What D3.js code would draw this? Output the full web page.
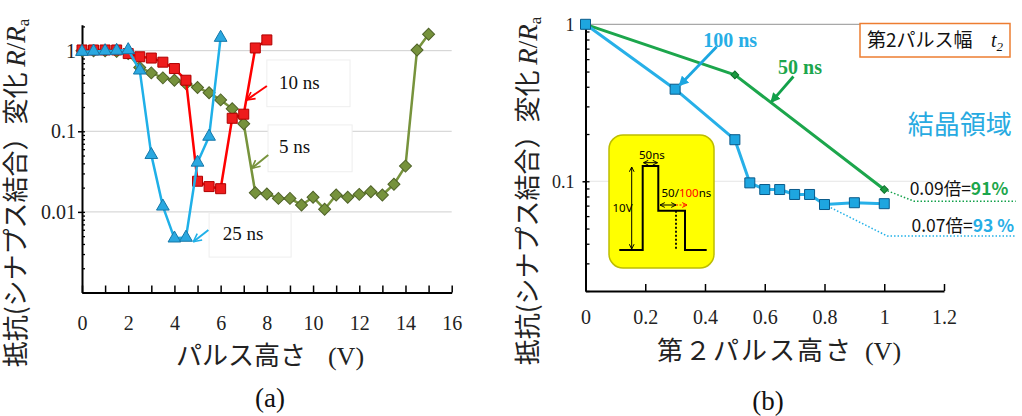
<!DOCTYPE html>
<html>
<head>
<meta charset="utf-8">
<script src="https://cdn.jsdelivr.net/npm/d3@7"></script>
<style>
body { margin: 0; background: #fff; }
svg { display: block; }
</style>
</head>
<body>
<svg id="chart" width="1022" height="416"></svg>
<script>
// (a) resistance change vs pulse height, three pulse widths
var redX = [0, 0.5, 1, 1.5, 2, 2.5, 3, 3.5, 4, 4.5, 5, 5.5, 6, 6.5, 7, 7.5, 8];
var redY = [1.02, 1.02, 1.02, 1.02, 0.92, 0.84, 0.81, 0.72, 0.6, 0.43, 0.024, 0.0206, 0.0194, 0.145, 0.163, 1.08, 1.36];

var blueX = [0, 0.5, 1, 1.5, 2, 2.5, 3, 3.5, 4, 4.5, 5, 5.5, 6];
var blueY = [0.97, 0.98, 0.99, 1.0, 1.02, 0.57, 0.051, 0.0117, 0.0047, 0.0048, 0.041, 0.086, 1.45];

var greenX = [0, 0.5, 1, 1.5, 2, 2.5, 3, 3.5, 4, 4.5, 5, 5.5, 6, 6.5, 7, 7.5,
              8, 8.5, 9, 9.5, 10, 10.5, 11, 11.5, 12, 12.5, 13, 13.5, 14, 14.5, 15];
var greenY = [1.0, 1.0, 1.0, 0.98, 0.92, 0.62, 0.53, 0.46, 0.43, 0.39, 0.35, 0.3, 0.245, 0.19, 0.124, 0.0173,
              0.0167, 0.0147, 0.0147, 0.0122, 0.0152, 0.0108, 0.0162, 0.0152, 0.0165, 0.0178, 0.0162, 0.022, 0.037, 1.02, 1.6];

var leftXTicks = [0, 2, 4, 6, 8, 10, 12, 14, 16];
var leftYTicks = [1, 0.1, 0.01];

// (b) resistance change vs second pulse height
var b100X = [0, 0.3, 0.5, 0.55, 0.6, 0.65, 0.7, 0.75, 0.8, 0.9, 1.0];
var b100Y = [1.0, 0.386, 0.184, 0.0977, 0.0886, 0.0886, 0.0824, 0.0824, 0.0711, 0.073, 0.072];
var b50X = [0, 0.5, 1.0];
var b50Y = [1.0, 0.476, 0.0886];

var rightXTicks = [0, 0.2, 0.4, 0.6, 0.8, 1, 1.2];
var rightYTicks = [1, 0.1];

var svg = d3.select("#chart");
var serif = "'Liberation Serif','Times New Roman',serif";
var jp = "'Noto Sans CJK JP','Noto Sans',sans-serif";
var sans = "'Noto Sans','Noto Sans CJK JP',sans-serif";

var xA = d3.scaleLinear().domain([0, 16]).range([82, 451.7]);
var yA = d3.scaleLog().domain([0.001, 2.1]).range([292.5, 24.7]);
var xB = d3.scaleLinear().domain([0, 1.2]).range([585.5, 944]);
var yB = d3.scaleLog().domain([0.02, 1]).range([291, 24.3]);

var defs = svg.append("defs");

function headMarker(id, color, filled, w) {
    defs.append("marker")
        .attr("id", id)
        .attr("viewBox", "0 0 10 10")
        .attr("refX", filled ? 8 : 9)
        .attr("refY", 5)
        .attr("markerWidth", w)
        .attr("markerHeight", w)
        .attr("markerUnits", "strokeWidth")
        .attr("orient", "auto-start-reverse")
      .append("path")
        .attr("d", filled ? "M0,0 L10,5 L0,10 Z" : "M1,1 L9,5 L1,9")
        .attr("fill", filled ? color : "none")
        .attr("stroke", color)
        .attr("stroke-width", filled ? 0 : 1.6);
}
headMarker("hRed", "#ff0000", false, 5);
headMarker("hOlive", "#77933c", false, 5);
headMarker("hSky", "#1fb0e8", false, 5);
headMarker("hBlue", "#1ca6e0", true, 3.6);
headMarker("hGreen", "#12a04a", true, 3.6);
headMarker("hInk", "#000", false, 6);
headMarker("hInkRed", "#ff0000", false, 6);

function styleAxis(g, size, family) {
    g.attr("font-family", family).attr("font-size", size);
    g.selectAll("text").attr("fill", "#222");
    g.select(".domain").attr("stroke", "#000").attr("stroke-width", 2);
    g.selectAll(".tick line").attr("stroke", "#000").attr("stroke-width", 1.5);
}

function drawSeries(g, xs, ys, xs_, ys_, lineColor, lineWidth, sym, size, fill, stroke, angle) {
    var pts = xs.map(function(x, i) { return [x, ys[i]]; });
    var line = d3.line()
        .x(function(d) { return xs_(d[0]); })
        .y(function(d) { return ys_(d[1]); });
    g.append("path")
        .attr("d", line(pts))
        .attr("fill", "none")
        .attr("stroke", lineColor)
        .attr("stroke-width", lineWidth)
        .attr("stroke-linejoin", "round");
    g.selectAll(null)
        .data(pts)
      .enter().append("path")
        .attr("d", d3.symbol().type(sym).size(size))
        .attr("transform", function(d) {
            return "translate(" + xs_(d[0]) + "," + ys_(d[1]) + ") rotate(" + angle + ")";
        })
        .attr("fill", fill)
        .attr("stroke", stroke)
        .attr("stroke-width", 1);
}

function yLabel(x, y) {
    var t = svg.append("text")
        .attr("transform", "translate(" + x + "," + y + ") rotate(-90)")
        .attr("text-anchor", "middle")
        .attr("font-family", jp)
        .attr("font-size", 26)
        .attr("fill", "#222");
    t.append("tspan").text("抵抗(シナプス結合）変化 ");
    t.append("tspan").attr("font-family", serif).attr("font-style", "italic").attr("font-size", 27).text("R");
    t.append("tspan").attr("font-family", serif).attr("font-size", 27).text("/");
    t.append("tspan").attr("font-family", serif).attr("font-style", "italic").attr("font-size", 27).text("R");
    t.append("tspan").attr("font-family", serif).attr("font-size", 17).attr("dy", 4).text("a");
}

// ---------------- panel (a) ----------------
var gA = svg.append("g");

gA.selectAll(null)
    .data(leftYTicks)
  .enter().append("line")
    .attr("x1", xA.range()[0]).attr("x2", xA.range()[1])
    .attr("y1", function(d) { return yA(d); })
    .attr("y2", function(d) { return yA(d); })
    .attr("stroke", "#cfcfcf")
    .attr("stroke-width", 1);

var axA = gA.append("g")
    .attr("transform", "translate(0," + yA.range()[0] + ")")
    .call(d3.axisBottom(xA).tickValues(xA.ticks(16)).tickSizeInner(-7).tickSizeOuter(0).tickPadding(23)
        .tickFormat(function(d) { return leftXTicks.indexOf(d) >= 0 ? d : ""; }));
styleAxis(axA, 20, serif);

var minorA = gA.append("g")
    .attr("transform", "translate(" + xA.range()[0] + ",0)")
    .call(d3.axisLeft(yA).tickValues(yA.ticks()).tickSizeInner(-3).tickSizeOuter(0).tickFormat(""));
minorA.select(".domain").remove();
minorA.selectAll(".tick line").attr("stroke", "#000").attr("stroke-width", 1.3);

var ayA = gA.append("g")
    .attr("transform", "translate(" + xA.range()[0] + ",0)")
    .call(d3.axisLeft(yA).tickValues(leftYTicks).tickSizeInner(4).tickSizeOuter(0).tickPadding(2)
        .tickFormat(function(d) { return String(d); }));
styleAxis(ayA, 20, serif);

// annotation boxes (drawn before data so lines pass over them)
var boxesA = [
    { x0: 8.0, x1: 11.6, y0: 0.767, y1: 0.202, label: "10 ns", tx: 8.53, ty: 0.41 },
    { x0: 8.05, x1: 11.69, y0: 0.12, y1: 0.0315, label: "5 ns", tx: 8.53, ty: 0.0645 },
    { x0: 5.5, x1: 9.05, y0: 0.0097, y1: 0.00275, label: "25 ns", tx: 6.09, ty: 0.00542 }
];
boxesA.forEach(function(b) {
    gA.append("rect")
        .attr("x", xA(b.x0)).attr("y", yA(b.y0))
        .attr("width", xA(b.x1) - xA(b.x0)).attr("height", yA(b.y1) - yA(b.y0))
        .attr("fill", "#fff").attr("stroke", "#eeeeee").attr("stroke-width", 1);
    gA.append("text")
        .attr("x", xA(b.tx)).attr("y", yA(b.ty))
        .attr("dy", "0.35em")
        .attr("font-family", serif).attr("font-size", 19).attr("fill", "#111")
        .text(b.label);
});

drawSeries(gA, greenX, greenY, xA, yA, "#77933c", 2.5, d3.symbolSquare, 72, "#76923c", "#4f6228", 45);
drawSeries(gA, redX, redY, xA, yA, "#ff0000", 2.5, d3.symbolSquare, 100, "#ee1c1c", "#b00000", 0);
drawSeries(gA, blueX, blueY, xA, yA, "#1fb0e8", 2.5, d3.symbolTriangle, 70, "#2aa8e0", "#1577a8", 0);

var arrowsA = [
    { from: [8.0, 0.365], to: [7.13, 0.245], color: "#ff0000", head: "hRed" },
    { from: [8.06, 0.0508], to: [7.35, 0.0348], color: "#77933c", head: "hOlive" },
    { from: [5.47, 0.00596], to: [4.82, 0.00427], color: "#1fb0e8", head: "hSky" }
];
arrowsA.forEach(function(a) {
    gA.append("line")
        .attr("x1", xA(a.from[0])).attr("y1", yA(a.from[1]))
        .attr("x2", xA(a.to[0])).attr("y2", yA(a.to[1]))
        .attr("stroke", a.color).attr("stroke-width", 2)
        .attr("marker-end", "url(#" + a.head + ")");
});

yLabel(25, 193);

var xlA = svg.append("text")
    .attr("x", 270).attr("y", 356).attr("dy", "0.35em")
    .attr("text-anchor", "middle")
    .attr("font-family", jp).attr("font-size", 26).attr("fill", "#222");
xlA.append("tspan").text("パルス高さ");
xlA.append("tspan").attr("dx", 22).attr("font-family", serif).text("(V)");

svg.append("text")
    .attr("x", 270).attr("y", 398).attr("dy", "0.35em")
    .attr("text-anchor", "middle")
    .attr("font-family", serif).attr("font-size", 27).attr("fill", "#111")
    .text("(a)");

// ---------------- panel (b) ----------------
var gB = svg.append("g");

gB.append("line")
    .attr("x1", xB.range()[0]).attr("x2", xB.range()[1])
    .attr("y1", yB(1)).attr("y2", yB(1))
    .attr("stroke", "#a8a8a8").attr("stroke-width", 1.2);
gB.append("line")
    .attr("x1", xB.range()[0]).attr("x2", xB.range()[1])
    .attr("y1", yB(0.1)).attr("y2", yB(0.1))
    .attr("stroke", "#e6e6e6").attr("stroke-width", 1);

var axB = gB.append("g")
    .attr("transform", "translate(0," + yB.range()[0] + ")")
    .call(d3.axisBottom(xB).tickValues(rightXTicks).tickSizeInner(-7).tickSizeOuter(0).tickPadding(19)
        .tickFormat(function(d) { return String(d); }));
styleAxis(axB, 20, serif);

var minorB = gB.append("g")
    .attr("transform", "translate(" + xB.range()[0] + ",0)")
    .call(d3.axisLeft(yB).tickValues(yB.ticks()).tickSizeInner(-4).tickSizeOuter(0).tickFormat(""));
minorB.select(".domain").remove();
minorB.selectAll(".tick line").attr("stroke", "#000").attr("stroke-width", 1.3);

var ayB = gB.append("g")
    .attr("transform", "translate(" + xB.range()[0] + ",0)")
    .call(d3.axisLeft(yB).tickValues(rightYTicks).tickSizeInner(3).tickSizeOuter(0).tickPadding(8)
        .tickFormat(function(d) { return String(d); }));
styleAxis(ayB, 18, serif);

// inset: pulse shape
var inset = gB.append("g").attr("transform", "translate(609,135)");
inset.append("rect")
    .attr("width", 105).attr("height", 133).attr("rx", 14)
    .attr("fill", "#ffff00").attr("stroke", "#bdbd00").attr("stroke-width", 1.5);
inset.append("path")
    .attr("d", "M10.3,115 H33.7 V31 H49.3 V75.7 H76 V115 H97.7")
    .attr("fill", "none").attr("stroke", "#000").attr("stroke-width", 2);
inset.append("line")
    .attr("x1", 67).attr("x2", 67).attr("y1", 75.7).attr("y2", 115)
    .attr("stroke", "#000").attr("stroke-width", 1.8).attr("stroke-dasharray", "2,2");
inset.append("line")
    .attr("x1", 22.7).attr("x2", 22.7).attr("y1", 32).attr("y2", 114)
    .attr("stroke", "#000").attr("stroke-width", 1)
    .attr("marker-start", "url(#hInk)").attr("marker-end", "url(#hInk)");
inset.append("line")
    .attr("x1", 34.5).attr("x2", 48.5).attr("y1", 27.7).attr("y2", 27.7)
    .attr("stroke", "#000").attr("stroke-width", 1)
    .attr("marker-start", "url(#hInk)").attr("marker-end", "url(#hInk)");
inset.append("line")
    .attr("x1", 51).attr("x2", 67).attr("y1", 70).attr("y2", 70)
    .attr("stroke", "#000").attr("stroke-width", 1)
    .attr("marker-start", "url(#hInk)").attr("marker-end", "url(#hInk)");
inset.append("line")
    .attr("x1", 67).attr("x2", 78).attr("y1", 70).attr("y2", 70)
    .attr("stroke", "#ff0000").attr("stroke-width", 1).attr("stroke-dasharray", "2,1.5")
    .attr("marker-end", "url(#hInkRed)");
inset.append("text").attr("x", 3.5).attr("y", 73.3).attr("dy", "0.35em")
    .attr("font-family", sans).attr("font-size", 11.5).text("10V");
inset.append("text").attr("x", 30).attr("y", 20).attr("dy", "0.35em")
    .attr("font-family", sans).attr("font-size", 11.5).text("50ns");
var t3 = inset.append("text").attr("x", 52.5).attr("y", 58.3).attr("dy", "0.35em")
    .attr("font-family", sans).attr("font-size", 11.5);
t3.append("tspan").text("50/");
t3.append("tspan").attr("fill", "#ff0000").text("100");
t3.append("tspan").text("ns");

// dotted guide lines to the right-side readouts
var guide = d3.line().x(function(d) { return xB(d[0]); }).y(function(d) { return yB(d[1]); });
var guide50 = [[1.0, 0.0886], [1.1, 0.0746], [1.44, 0.0746]];
var guide100 = [[0.8, 0.0711], [1.01, 0.0448], [1.44, 0.0448]];
gB.append("path").attr("d", guide(guide50))
    .attr("fill", "none").attr("stroke", "#12a04a").attr("stroke-width", 1.5).attr("stroke-dasharray", "1.5,2");
gB.append("path").attr("d", guide(guide100))
    .attr("fill", "none").attr("stroke", "#1fb0e8").attr("stroke-width", 1.5).attr("stroke-dasharray", "1.5,2");

drawSeries(gB, b50X, b50Y, xB, yB, "#1ca64c", 3, d3.symbolSquare, 30, "#1a9a40", "#0f6e2c", 45);
drawSeries(gB, b100X, b100Y, xB, yB, "#27b0e8", 3, d3.symbolSquare, 100, "#1ea6e0", "#0a5a8a", 0);

// labels and arrows in panel (b)
gB.append("text")
    .attr("x", xB(0.484)).attr("y", yB(0.795)).attr("dy", "0.35em")
    .attr("text-anchor", "middle")
    .attr("font-family", serif).attr("font-weight", "bold").attr("font-size", 20)
    .attr("fill", "#27aee6").text("100 ns");
gB.append("line")
    .attr("x1", xB(0.439)).attr("y1", yB(0.72)).attr("x2", xB(0.316)).attr("y2", yB(0.411))
    .attr("stroke", "#1ca6e0").attr("stroke-width", 2.8).attr("marker-end", "url(#hBlue)");
gB.append("text")
    .attr("x", xB(0.718)).attr("y", yB(0.535)).attr("dy", "0.35em")
    .attr("text-anchor", "middle")
    .attr("font-family", serif).attr("font-weight", "bold").attr("font-size", 20)
    .attr("fill", "#1ca64c").text("50 ns");
gB.append("line")
    .attr("x1", xB(0.696)).attr("y1", yB(0.465)).attr("x2", xB(0.623)).attr("y2", yB(0.322))
    .attr("stroke", "#12a04a").attr("stroke-width", 2.8).attr("marker-end", "url(#hGreen)");

gB.append("text")
    .attr("x", xB(1.253)).attr("y", yB(0.229)).attr("dy", "0.35em")
    .attr("text-anchor", "middle")
    .attr("font-family", jp).attr("font-size", 26)
    .attr("fill", "#27aae1").text("結晶領域");

var r50 = gB.append("text")
    .attr("x", xB(1.085)).attr("y", yB(0.0823))
    .attr("font-family", jp).attr("font-size", 17.5).attr("fill", "#111");
r50.append("tspan").text("0.09倍=");
r50.append("tspan").attr("font-weight", "bold").attr("fill", "#1ca64c").text("91%");
var r100 = gB.append("text")
    .attr("x", xB(1.091)).attr("y", yB(0.0472))
    .attr("font-family", jp).attr("font-size", 17.5).attr("fill", "#111");
r100.append("tspan").text("0.07倍=");
r100.append("tspan").attr("font-weight", "bold").attr("fill", "#27aee6").text("93 %");

// legend box
gB.append("rect")
    .attr("x", 860).attr("y", 23.5).attr("width", 150).attr("height", 33.5)
    .attr("fill", "#fff").attr("stroke", "#ed7d31").attr("stroke-width", 1.5);
var lg = gB.append("text")
    .attr("x", 867).attr("y", 40.5).attr("dy", "0.35em")
    .attr("font-family", jp).attr("font-size", 19).attr("fill", "#111");
lg.append("tspan").text("第2パルス幅");
lg.append("tspan").attr("x", 991).attr("font-family", serif).attr("font-style", "italic").attr("font-size", 20).text("t");
lg.append("tspan").attr("dy", 4).attr("font-family", serif).attr("font-style", "italic").attr("font-size", 13).text("2");

yLabel(537, 191);

var xlB = svg.append("text")
    .attr("x", 779).attr("y", 351).attr("dy", "0.35em")
    .attr("text-anchor", "middle")
    .attr("font-family", jp).attr("font-size", 26).attr("fill", "#222");
xlB.append("tspan").attr("letter-spacing", 2).text("第２パルス高さ");
xlB.append("tspan").attr("dx", 12).attr("font-family", serif).text("(V)");

svg.append("text")
    .attr("x", 768).attr("y", 401).attr("dy", "0.35em")
    .attr("text-anchor", "middle")
    .attr("font-family", serif).attr("font-size", 27).attr("fill", "#111")
    .text("(b)");
</script>
</body>
</html>
